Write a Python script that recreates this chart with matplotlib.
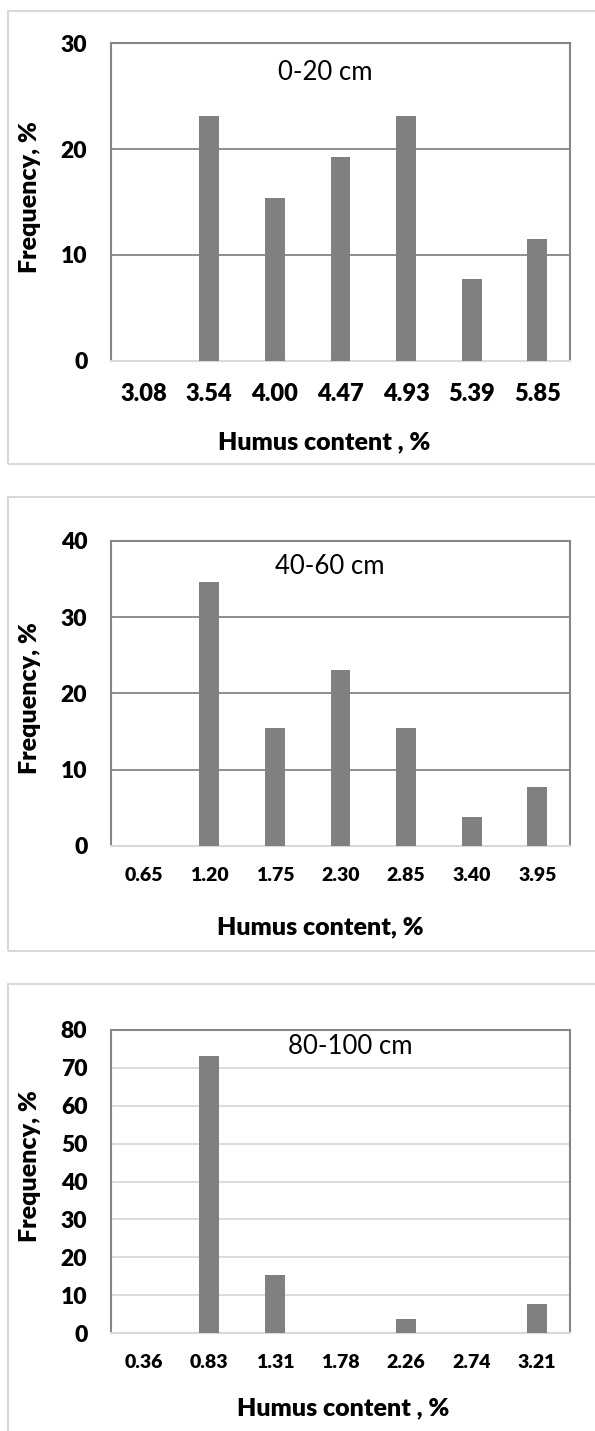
import matplotlib
matplotlib.use("Agg")
import matplotlib.pyplot as plt
from matplotlib.patches import Rectangle

# humus content class marks (x tick labels) and frequency, % per soil layer
labels_0_20 = ["3.08", "3.54", "4.00", "4.47", "4.93", "5.39", "5.85"]
freq_0_20 = [0, 23.1, 15.4, 19.2, 23.1, 7.7, 11.5]

labels_40_60 = ["0.65", "1.20", "1.75", "2.30", "2.85", "3.40", "3.95"]
freq_40_60 = [0, 34.6, 15.4, 23.1, 15.4, 3.8, 7.7]

labels_80_100 = ["0.36", "0.83", "1.31", "1.78", "2.26", "2.74", "3.21"]
freq_80_100 = [0, 73.1, 15.4, 0, 3.8, 0, 7.7]

plt.rcParams["font.family"] = ["Lato", "DejaVu Sans"]

W, H = 595, 1431
fig = plt.figure(figsize=(W / 100, H / 100), dpi=100)

BAR = "#808080"
DARK = "#868686"
LIGHT = "#d9d9d9"


def px_box(left, top, right, bottom):
    return [left / W, 1 - bottom / H, (right - left) / W, (bottom - top) / H]


panels = [
    dict(labels=labels_0_20, freq=freq_0_20, ymax=30, step=10, title="0-20 cm",
         box=(111, 43.3, 570, 360.5), frame=(8, 10.7, 464), grid=DARK,
         xt=17, xpad=16, xlabel="Humus content , %", xl=(0.464, -0.258),
         yl=(-0.176, 0.515), tt=(0.466, 0.907)),
    dict(labels=labels_40_60, freq=freq_40_60, ymax=40, step=10, title="40-60 cm",
         box=(111, 540.7, 570, 846), frame=(8, 497, 951), grid=DARK,
         xt=14, xpad=15, xlabel="Humus content, %", xl=(0.455, -0.265),
         yl=(-0.176, 0.485), tt=(0.477, 0.917)),
    dict(labels=labels_80_100, freq=freq_80_100, ymax=80, step=10, title="80-100 cm",
         box=(111, 1030, 570, 1333), frame=(8, 983.5, 1500), grid=LIGHT,
         xt=14, xpad=15, xlabel="Humus content , %", xl=(0.505, -0.248),
         yl=(-0.176, 0.551), tt=(0.521, 0.944)),
]

for p in panels:
    fl, ft, fb = p["frame"]
    fig.add_artist(Rectangle((fl / W, 1 - fb / H), 1.0, (fb - ft) / H,
                             transform=fig.transFigure, fill=False,
                             ec=LIGHT, lw=1.5))

    ax = fig.add_axes(px_box(*p["box"]))
    x = range(len(p["labels"]))
    ax.bar(x, p["freq"], width=0.305, color=BAR, zorder=3)
    ax.set_xlim(-0.5, len(p["labels"]) - 0.5)
    ax.set_ylim(0, p["ymax"])
    ax.set_yticks(range(0, p["ymax"] + 1, p["step"]))
    ax.set_xticks(list(x))
    ax.set_xticklabels(p["labels"])
    ax.tick_params(axis="x", length=0, pad=p["xpad"], labelsize=p["xt"])
    ax.tick_params(axis="y", length=0, pad=17, labelsize=16.5)
    for lab in ax.get_xticklabels() + ax.get_yticklabels():
        lab.set_fontweight("heavy")

    ax.yaxis.grid(True, color=p["grid"], lw=1.3, zorder=0)
    ax.set_axisbelow(True)
    for side in ("top", "left", "right"):
        ax.spines[side].set_color(DARK)
        ax.spines[side].set_linewidth(1.5)
    ax.spines["bottom"].set_color(LIGHT)
    ax.spines["bottom"].set_linewidth(1.5)

    ax.set_xlabel(p["xlabel"], fontsize=18, fontweight="heavy", va="center")
    ax.xaxis.set_label_coords(*p["xl"])
    ax.set_ylabel("Frequency, %", fontsize=18, fontweight="heavy", va="center")
    ax.yaxis.set_label_coords(*p["yl"])

    ax.text(p["tt"][0], p["tt"][1], p["title"], transform=ax.transAxes,
            ha="center", va="center", fontsize=18.5)

fig.savefig("out.png", dpi=100)
